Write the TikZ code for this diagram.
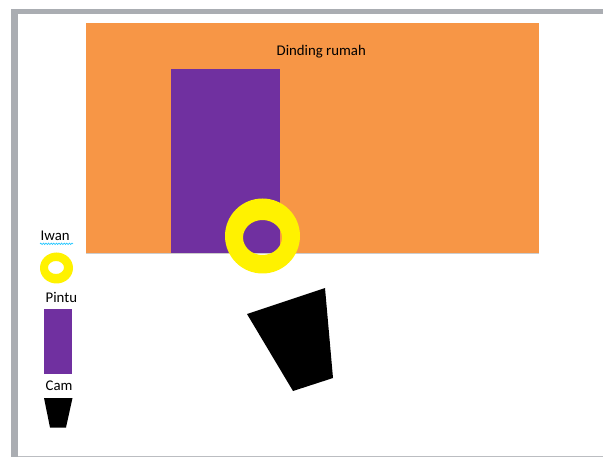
\documentclass[tikz,border=0pt]{standalone}
\usepackage{fontspec}
\setmainfont{Carlito}
\usetikzlibrary{decorations.pathmorphing}
\definecolor{RumahOrange}{RGB}{247,150,70}
\definecolor{PintuPurple}{RGB}{112,48,160}
\definecolor{FrameGray}{RGB}{170,173,178}
\definecolor{WavyBlue}{RGB}{40,200,255}

\begin{document}
\begin{tikzpicture}[x=1pt, y=-1pt,
	legendtext/.style={inner sep=0pt, anchor=base west, font=\fontsize{14.8}{17}\selectfont}]
	\useasboundingbox (0,0) rectangle (603,457);
	\fill[white] (0,0) rectangle (603,457);
	% slide frame
	\fill[FrameGray] (11,9.5) rectangle (603,14.5);
	\fill[FrameGray] (11,9.5) rectangle (17.5,457);
	\fill[FrameGray!80] (17.5,455.5) rectangle (603,457);
	% wall and door
	\fill[RumahOrange] (86,23) rectangle (539,253);
	\fill[PintuPurple] (171,69) rectangle (279.5,253);
	\draw[gray!40, line width=0.6pt] (86,253.3) -- (539,253.3);
	\node[legendtext] (dinding) at (276.5,56) {Dinding rumah};
	% Iwan and camera
	\fill[yellow, even odd rule] (262.5,236) circle (37.5pt)
		(262.5,237.5) ellipse [x radius=19.5pt, y radius=17.5pt];
	\fill (247,314) -- (325,288) -- (333,378) -- (293,391) -- cycle;
	% legend
	\node[legendtext] (iwan) at (40.5,241) {Iwan};
	\draw[WavyBlue, line width=0.7pt, decorate,
		decoration={snake, amplitude=0.7pt, segment length=2.6pt}] (40,243.8) -- (73,243.8);
	\fill[yellow, even odd rule] (56.5,268) ellipse [x radius=16.5pt, y radius=15.5pt]
		(56,267.5) ellipse [x radius=8pt, y radius=6.5pt];
	\node[legendtext] (pintu) at (45.5,303) {Pintu};
	\fill[PintuPurple] (44,309) rectangle (72,374);
	\node[legendtext] (cam) at (45.5,390.5) {Cam};
	\fill (44,398) -- (72.5,398) -- (66,427.5) -- (50,427.5) -- cycle;
\end{tikzpicture}
\end{document}
